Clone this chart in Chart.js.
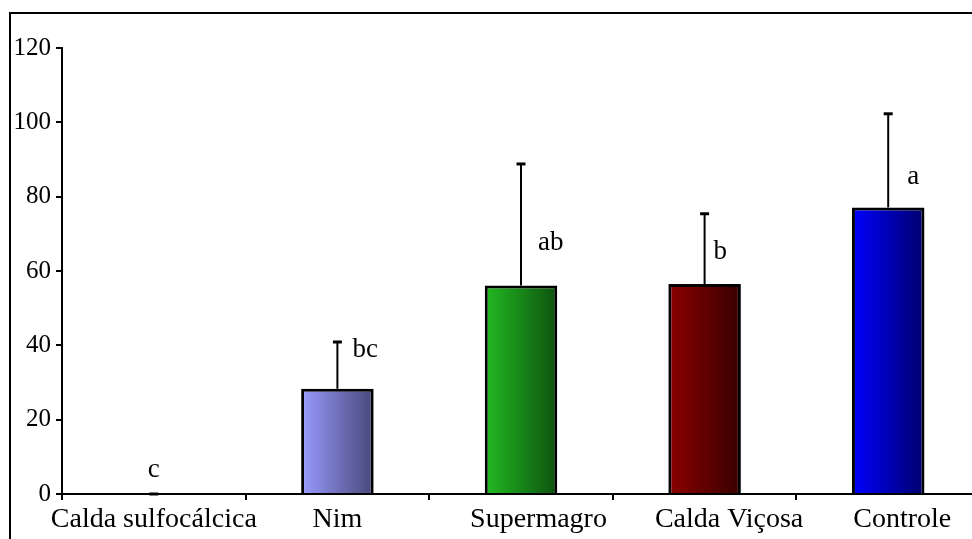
<!DOCTYPE html>
<html>
<head>
<meta charset="utf-8">
<script src="https://cdn.jsdelivr.net/npm/chart.js@4/dist/chart.umd.min.js"></script>
<style>
  html, body { margin:0; padding:0; background:#fff; overflow:hidden; }
  #wrap { position:relative; width:972px; height:539px; overflow:hidden; }
  #frame { position:absolute; left:9px; top:12px; width:1000px; height:600px;
           border-top:2px solid #000; border-left:2px solid #000; pointer-events:none; }
  #holder { position:absolute; left:0; top:0; width:990px; height:539px; }
</style>
</head>
<body>
<div id="wrap">
  <div id="holder"><canvas id="c" width="990" height="539"></canvas></div>
  <div id="frame"></div>
</div>
<script>
// ---- data ----
const categories = ['Calda sulfocálcica', 'Nim', 'Supermagro', 'Calda Viçosa', 'Controle'];
const means      = [0, 28.3, 56.1, 56.5, 77.1];
const errors     = [0, 12.6, 32.7, 18.9, 25.2];
const letters    = ['c', 'bc', 'ab', 'b', 'a'];
const letterY    = [6.6, 38.9, 67.6, 65.2, 85.2];
const yTicks     = [0, 20, 40, 60, 80, 100, 120];

// ---- styles ----
const gradLeft  = ['#888888', '#9b9bff', '#22ba22', '#8c0000', '#0000ff'];
const gradRight = ['#333333', '#474779', '#0e520e', '#380000', '#00006c'];
const letterDx  = [0, 15, 17, 9, 19];
const letterAlign = ['center', 'left', 'left', 'left', 'left'];
const labelPad  = [0, 0, 5, 7, 4];
const FONT = 'Liberation Serif';
const BAR_PCT = 0.395;

function barGradient(ctx) {
  const chart = ctx.chart;
  const i = ctx.dataIndex;
  const xs = chart.scales.x;
  if (!xs || !chart.chartArea || i === undefined) return gradLeft[i] || '#888';
  const cx = xs.getPixelForValue(i);
  const half = (chart.chartArea.width / categories.length) * BAR_PCT / 2;
  const g = chart.ctx.createLinearGradient(cx - half, 0, cx + half, 0);
  g.addColorStop(0, gradLeft[i]);
  g.addColorStop(1, gradRight[i]);
  return g;
}

const errorBarPlugin = {
  id: 'errorBars',
  afterDatasetsDraw(chart) {
    const { ctx } = chart;
    const xs = chart.scales.x, ys = chart.scales.y;
    ctx.save();
    ctx.strokeStyle = '#000';
    means.forEach((m, i) => {
      const x = xs.getPixelForValue(i);
      const y0 = ys.getPixelForValue(m);
      const y1 = ys.getPixelForValue(m + errors[i]);
      ctx.lineWidth = 2;
      ctx.beginPath();
      ctx.moveTo(x, y0);
      ctx.lineTo(x, y1);
      ctx.stroke();
      ctx.lineWidth = 3;
      ctx.beginPath();
      ctx.moveTo(x - 4.5, y1);
      ctx.lineTo(x + 4.5, y1);
      ctx.stroke();
      // significance letters
      ctx.fillStyle = '#000';
      ctx.font = '27px "' + FONT + '"';
      ctx.textAlign = letterAlign[i];
      ctx.textBaseline = 'middle';
      ctx.fillText(letters[i], x + letterDx[i], ys.getPixelForValue(letterY[i]));
    });
    ctx.restore();
  }
};

new Chart(document.getElementById('c'), {
  type: 'bar',
  data: {
    labels: categories,
    datasets: [{
      data: means,
      backgroundColor: barGradient,
      borderColor: '#000',
      borderWidth: 3,
      borderSkipped: 'start',
      barPercentage: BAR_PCT,
      categoryPercentage: 1.0
    }]
  },
  options: {
    responsive: false,
    animation: false,
    devicePixelRatio: 1,
    layout: { padding: { top: 48, right: 10, left: 0, bottom: 0 } },
    plugins: { legend: { display: false }, tooltip: { enabled: false } },
    scales: {
      x: {
        offset: true,
        grid: { display: true, drawOnChartArea: false, drawTicks: true, tickLength: 6,
                color: '#000', lineWidth: 2, offset: true },
        border: { display: true, color: '#000', width: 2 },
        ticks: {
          color: '#000', font: { family: FONT, size: 28 }, padding: 3, maxRotation: 0, autoSkip: false,
          callback: (v, i) => '\u00a0'.repeat(labelPad[i]) + categories[i]
        },
        afterFit(scale) { scale.height = 45; }
      },
      y: {
        min: 0, max: 120,
        afterBuildTicks(scale) { scale.ticks = yTicks.map(v => ({ value: v })); },
        grid: { display: true, drawOnChartArea: false, drawTicks: true, tickLength: 6,
                color: '#000', lineWidth: 2 },
        border: { display: true, color: '#000', width: 2 },
        ticks: { color: '#000', font: { family: FONT, size: 25 }, padding: 5 },
        afterFit(scale) { scale.width = 62; }
      }
    }
  },
  plugins: [errorBarPlugin]
});
</script>
</body>
</html>
